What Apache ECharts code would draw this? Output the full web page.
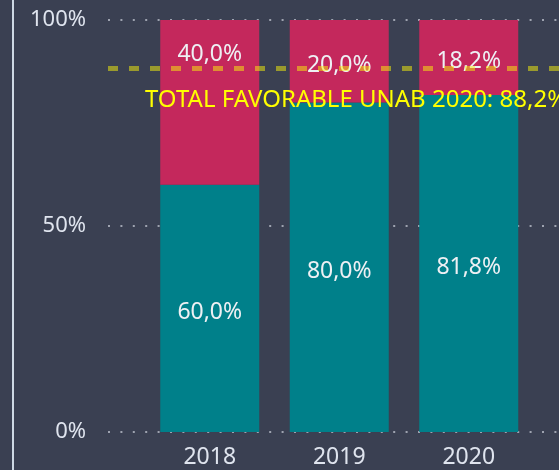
<!DOCTYPE html>
<html>
<head>
<meta charset="utf-8">
<script src="https://cdn.jsdelivr.net/npm/echarts@6/dist/echarts.min.js"></script>
<style>
html, body { margin: 0; padding: 0; background: #3a4052; }
#chart { width: 559px; height: 470px; }
</style>
</head>
<body>
<div id="chart"></div>
<script>
// datos
var years = ['2018', '2019', '2020'];
var favorable = [60.0, 80.0, 81.8];
var desfavorable = [40.0, 20.0, 18.2];
var totalFavorable = 88.2;
var totalLabel = 'TOTAL FAVORABLE UNAB 2020: 88,2%';
var yTicks = [0, 50, 100];

var font = 'Noto Sans';

function pct(v) {
    return v.toFixed(1).replace('.', ',') + '%';
}

var chart = echarts.init(document.getElementById('chart'));

// la etiqueta roja de 2018 va arriba, el resto centradas
var topData = desfavorable.map(function (v, i) {
    if (i === 0) {
        return { value: v, label: { position: 'insideTop', distance: 19 } };
    }
    return v;
});

var option = {
    backgroundColor: '#3a4052',
    animation: false,
    grid: [
        { left: 108, right: 0, top: 20, bottom: 38 },      // lineas de fondo
        { left: 145, right: 25.5, top: 20, bottom: 38 }    // barras
    ],
    graphic: [
        {
            type: 'line',
            shape: { x1: 13, y1: 0, x2: 13, y2: 470 },
            style: { stroke: '#cdd8e4', lineWidth: 2 }
        }
    ],
    xAxis: [
        { type: 'category', gridIndex: 0, data: [''], show: false },
        {
            type: 'category',
            gridIndex: 1,
            data: years,
            axisLine: { show: false },
            axisTick: { show: false },
            axisLabel: { color: '#dfe4ee', fontSize: 23, fontFamily: font, margin: 14 }
        }
    ],
    yAxis: [
        {
            type: 'value',
            gridIndex: 0,
            min: yTicks[0],
            max: yTicks[yTicks.length - 1],
            interval: yTicks[1] - yTicks[0],
            axisLine: { show: false },
            axisTick: { show: false },
            axisLabel: {
                color: '#dfe4ee',
                fontSize: 22,
                fontFamily: font,
                margin: 22,
                padding: [4, 0, 0, 0],
                formatter: '{value}%'
            },
            splitLine: {
                show: true,
                lineStyle: { color: '#9ea3b0', width: 2, type: [2, 10.4] }
            }
        },
        { type: 'value', gridIndex: 1, min: 0, max: 100, show: false }
    ],
    series: [
        {
            name: 'Favorable',
            type: 'bar',
            xAxisIndex: 1,
            yAxisIndex: 1,
            stack: 'total',
            barWidth: 99,
            data: favorable,
            itemStyle: { color: '#00808a' },
            label: {
                show: true,
                position: 'inside',
                offset: [0, 4],
                color: '#eef0f4',
                fontSize: 23,
                fontFamily: font,
                formatter: function (p) { return pct(p.value); }
            }
        },
        {
            name: 'Desfavorable',
            type: 'bar',
            xAxisIndex: 1,
            yAxisIndex: 1,
            stack: 'total',
            barWidth: 99,
            data: topData,
            itemStyle: { color: '#c4285c' },
            label: {
                show: true,
                position: 'inside',
                offset: [0, 4],
                color: '#eef0f4',
                fontSize: 23,
                fontFamily: font,
                formatter: function (p) { return pct(p.value); }
            }
        },
        {
            // linea de total
            type: 'line',
            xAxisIndex: 0,
            yAxisIndex: 0,
            data: [],
            z: 5,
            markLine: {
                silent: true,
                symbol: 'none',
                lineStyle: { color: 'rgba(250,244,8,0.5)', width: 5, type: [10, 11] },
                label: {
                    show: true,
                    position: 'insideStartBottom',
                    distance: [37, 20],
                    color: '#ffff00',
                    fontSize: 24,
                    fontFamily: font,
                    formatter: totalLabel
                },
                data: [{ yAxis: totalFavorable }]
            }
        }
    ]
};

chart.setOption(option);
</script>
</body>
</html>
